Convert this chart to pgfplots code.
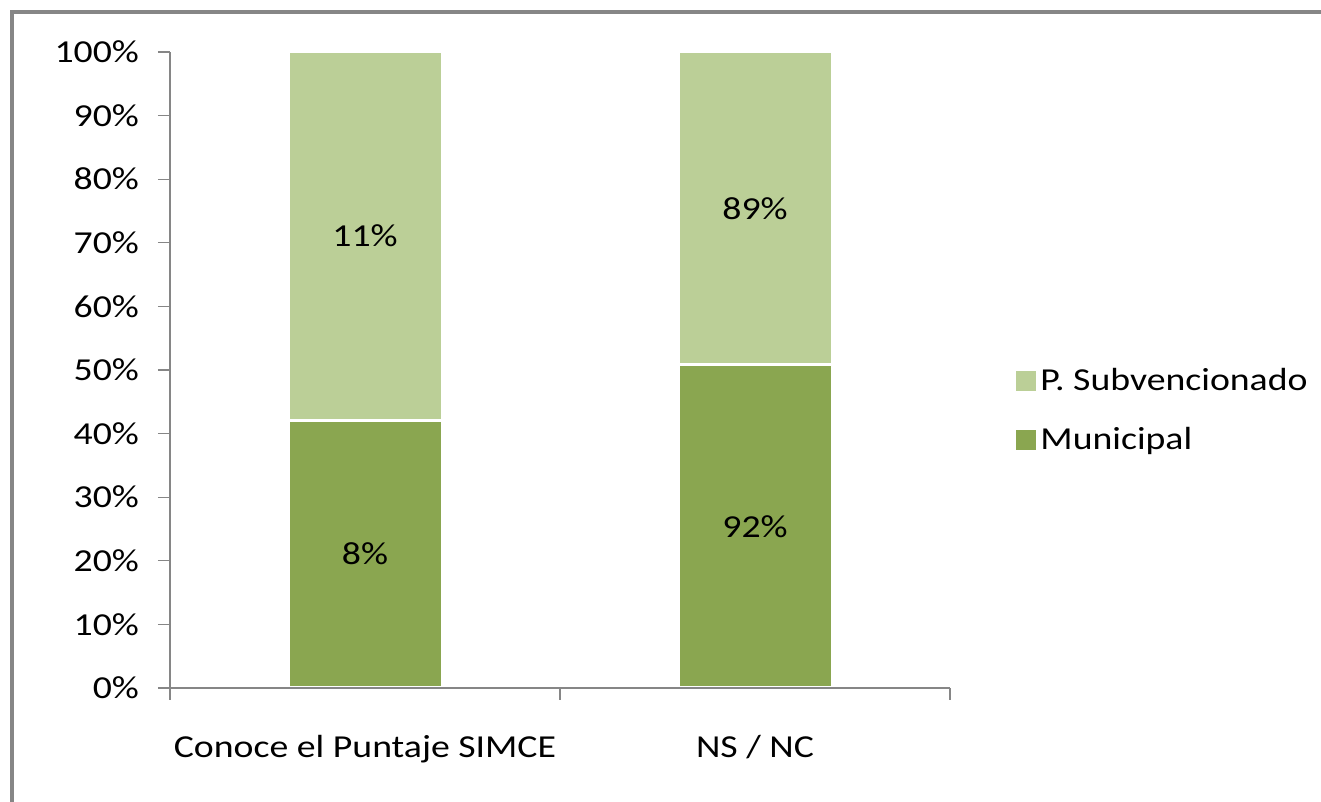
\documentclass[border=0pt]{standalone}
\usepackage{fontspec}
\setmainfont{Carlito}[FakeStretch=1.18]
\usepackage{pgfplots}
\pgfplotsset{compat=1.18}
\definecolor{munic}{HTML}{8AA650}
\definecolor{subv}{HTML}{BBCF97}
\definecolor{axgray}{HTML}{868686}

\begin{document}
\begin{tikzpicture}
\path[use as bounding box] (-85pt,-57pt) rectangle (575.5pt,344pt);
% outer frame (left and top only, as in the reference crop)
\draw[axgray, line width=2pt] (-79pt,-57pt) -- (-79pt,338pt) -- (575.5pt,338pt);
\begin{axis}[
    at={(0pt,0pt)}, anchor=south west,
    scale only axis,
    width=390pt, height=318pt,
    axis on top,
    ybar stacked,
    bar width=77pt,
    xmin=-0.5, xmax=1.5,
    ymin=0, ymax=100,
    clip=false,
    axis lines=left,
    axis line style={-, axgray, line width=0.8pt},
    xtick={0,1},
    xticklabels={Conoce el Puntaje SIMCE, NS / NC},
    minor xtick={-0.5,0.5,1.5},
    major x tick style={draw=none},
    minor x tick style={axgray, line width=0.6pt},
    minor tick length=6pt,
    ytick={0,10,...,100},
    yticklabel={\pgfmathprintnumber{\tick}\%},
    y tick style={axgray, line width=0.6pt},
    major tick length=6pt,
    tick align=outside,
    tick pos=left,
    ticklabel style={font=\fontsize{16}{19}\selectfont, text=black},
    yticklabel style={xshift=-6pt},
    xticklabel style={yshift=-14pt},
    /pgf/number format/assume math mode=true,
    legend style={at={(1.077,0.436)}, anchor=west, draw=none, fill=none,
        font=\fontsize{16}{19}\selectfont, row sep=13pt,
        /tikz/every even column/.append style={column sep=2pt}},
    legend cell align=left,
    reverse legend,
    legend image code/.code={\fill[#1, draw=none] (0pt,-5pt) rectangle (10pt,5pt);},
]
% stacked shares of each column (Municipal 8 vs 11; 92 vs 89)
\addplot[fill=munic, draw=white, line width=1.5pt] coordinates {(0,42.1) (1,50.8)};
\addlegendentry{Municipal}
\addplot[fill=subv, draw=white, line width=1.5pt] coordinates {(0,57.9) (1,49.2)};
\addlegendentry{P. Subvencionado}
\coordinate (m1) at (axis cs:0,21.05);
\coordinate (s1) at (axis cs:0,71.05);
\coordinate (m2) at (axis cs:1,25.4);
\coordinate (s2) at (axis cs:1,75.4);
\end{axis}
\begin{scope}[every node/.style={font=\fontsize{16}{19}\selectfont, text=black}]
\node at (m1) {8\%};
\node at (s1) {11\%};
\node at (m2) {92\%};
\node at (s2) {89\%};
\end{scope}
\end{tikzpicture}
\end{document}
